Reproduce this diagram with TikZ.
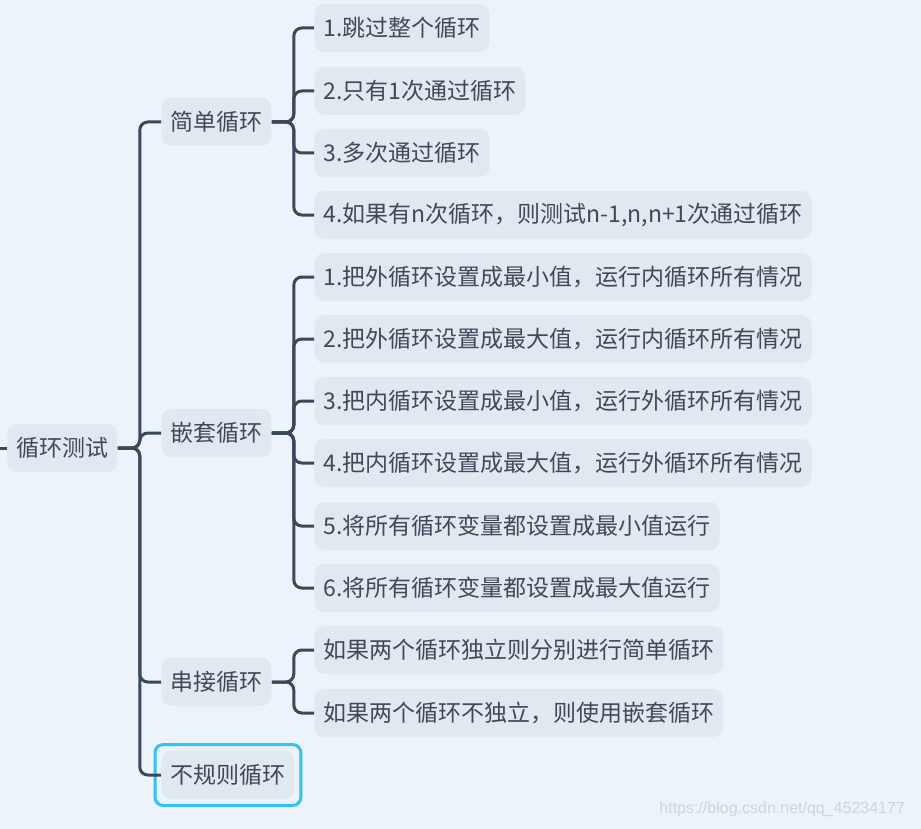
\documentclass[tikz,border=0pt]{standalone}
\usepackage{fontspec}
\setmainfont{Noto Sans CJK SC}
\newfontfamily\markfont{Liberation Sans}
\usepackage{tikz}
\usetikzlibrary{positioning}
\definecolor{canvasBlue}{RGB}{237, 243, 250}
\definecolor{boxGrey}{RGB}{225, 232, 240}
\definecolor{lineDark}{RGB}{58, 72, 92}
\definecolor{textDark}{RGB}{62, 74, 90}
\definecolor{focusCyan}{RGB}{51, 193, 247}
\definecolor{markGrey}{RGB}{205, 212, 222}

\begin{document}
\begin{tikzpicture}[
    x=0.5pt,
    y=-0.5pt,
    topic/.style={
        rectangle,
        rounded corners=5pt,
        minimum height=24pt,
        inner xsep=4.5pt,
        anchor=west,
        font=\fontsize{11.5}{12}\selectfont,
        text=textDark,
        fill=boxGrey
    },
    branch/.style={
        draw=lineDark,
        line width=1.5pt,
        rounded corners=4pt
    }
]

% Canvas
\fill[canvasBlue] (0,0) rectangle (921,829);
\useasboundingbox (0,0) rectangle (921,829);

% Root and main topics
\node[topic] (root) at (7,448) {循环测试};
\node[topic] (simple) at (161,122) {简单循环};
\node[topic] (nested) at (161,433) {嵌套循环};
\node[topic] (serial) at (161,682) {串接循环};
\node[topic] (irregular) at (161,775) {不规则循环};

% Simple loop cases
\node[topic] (s1) at (314,28) {1.跳过整个循环};
\node[topic] (s2) at (314,91) {2.只有1次通过循环};
\node[topic] (s3) at (314,153) {3.多次通过循环};
\node[topic] (s4) at (314,215) {4.如果有n次循环，则测试n-1,n,n+1次通过循环};

% Nested loop cases
\node[topic] (n1) at (314,277) {1.把外循环设置成最小值，运行内循环所有情况};
\node[topic] (n2) at (314,339) {2.把外循环设置成最大值，运行内循环所有情况};
\node[topic] (n3) at (314,401) {3.把内循环设置成最小值，运行外循环所有情况};
\node[topic] (n4) at (314,463) {4.把内循环设置成最大值，运行外循环所有情况};
\node[topic] (n5) at (314,526) {5.将所有循环变量都设置成最小值运行};
\node[topic] (n6) at (314,588) {6.将所有循环变量都设置成最大值运行};

% Serial loop cases
\node[topic] (c1) at (314,650) {如果两个循环独立则分别进行简单循环};
\node[topic] (c2) at (314,713) {如果两个循环不独立，则使用嵌套循环};

% Selection frame
\draw[focusCyan, line width=1.5pt, rounded corners=4pt]
    ([shift={(-3pt,-3pt)}]irregular.south west) rectangle ([shift={(3pt,3pt)}]irregular.north east);

% Branches
\coordinate (entry) at (0,448);
\draw[branch] (entry) -- (root.west);
\draw[branch] (root.east) -- ++(22,0) |- (simple.west);
\draw[branch] (root.east) -- ++(22,0) |- (nested.west);
\draw[branch] (root.east) -- ++(22,0) |- (serial.west);
\draw[branch] (root.east) -- ++(22,0) |- (irregular.west);

\draw[branch] (simple.east) -- ++(22,0) |- (s1.west);
\draw[branch] (simple.east) -- ++(22,0) |- (s2.west);
\draw[branch] (simple.east) -- ++(22,0) |- (s3.west);
\draw[branch] (simple.east) -- ++(22,0) |- (s4.west);

\draw[branch] (nested.east) -- ++(22,0) |- (n1.west);
\draw[branch] (nested.east) -- ++(22,0) |- (n2.west);
\draw[branch] (nested.east) -- ++(22,0) |- (n3.west);
\draw[branch] (nested.east) -- ++(22,0) |- (n4.west);
\draw[branch] (nested.east) -- ++(22,0) |- (n5.west);
\draw[branch] (nested.east) -- ++(22,0) |- (n6.west);

\draw[branch] (serial.east) -- ++(22,0) |- (c1.west);
\draw[branch] (serial.east) -- ++(22,0) |- (c2.west);

% Watermark
\node[font=\markfont\fontsize{8}{9}\selectfont, text=markGrey, anchor=east] (mark) at (912,809) {https://blog.csdn.net/qq\_45234177};

\end{tikzpicture}
\end{document}
